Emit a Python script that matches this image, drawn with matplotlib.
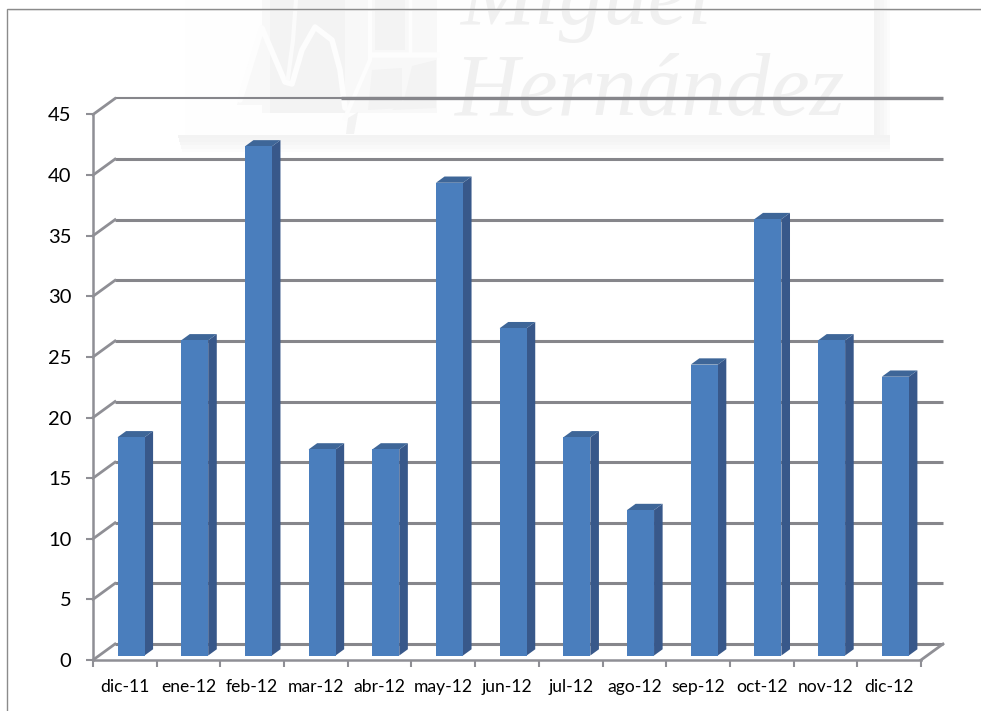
import matplotlib
matplotlib.use("Agg")
import matplotlib.pyplot as plt
from matplotlib.patches import Polygon, Rectangle

months = ["dic-11", "ene-12", "feb-12", "mar-12", "abr-12", "may-12", "jun-12",
          "jul-12", "ago-12", "sep-12", "oct-12", "nov-12", "dic-12"]
counts = [18, 26, 42, 17, 17, 39, 27, 18, 12, 24, 36, 26, 23]
y_ticks = [0, 5, 10, 15, 20, 25, 30, 35, 40, 45]

GREY = "#86868b"
AXIS_GREY = "#8f8f95"
FRONT = "#4a7ebd"
SIDE = "#38588a"
TOP = "#3e6698"
MARK = "#f3f3f3"
MARK_PALE = "#f8f8f8"

W, H = 981, 711
fig = plt.figure(figsize=(W / 100, H / 100), dpi=100, facecolor="white")

# Backdrop layer in pixel coordinates: faint crest, its box and the outer frame
bg = fig.add_axes([0, 0, 1, 1], zorder=0)
bg.set_xlim(0, W)
bg.set_ylim(H, 0)
bg.axis("off")

bg.add_patch(Rectangle((185, 0), 689, 135, fc="#fefefe", ec="none"))
for i, shade in enumerate(["#f3f3f3", "#f4f4f4", "#f6f6f6", "#f9f9f9", "#fcfcfc"]):
    bg.add_patch(Rectangle((178 + i, 135 + 3.4 * i), 712 - i, 3.4, fc=shade, ec="none"))
    bg.add_patch(Rectangle((874 + 3.2 * i, 0), 3.2, 135, fc=shade, ec="none"))

# Crest: pale ground, darker blocks, and the curve of the M left lighter on top
for pts, shade in [
    ([(262, 113), (262, 0), (437, 0), (437, 113)], MARK_PALE),
    ([(237, 105), (250, 60), (262, 25), (262, 105)], MARK_PALE),
    ([(375, 0), (405, 0), (405, 50), (375, 50)], MARK),
    ([(270, 0), (345, 0), (345, 113), (270, 113)], MARK),
    ([(372, 70), (402, 68), (402, 108), (368, 110)], MARK),
    ([(412, 66), (436, 60), (436, 108), (392, 110), (404, 100)], MARK),
    ([(348, 118), (358, 112), (354, 134), (346, 134)], MARK),
]:
    bg.add_patch(Polygon(pts, closed=True, fc=shade, ec="none"))
bg.plot([240, 262, 285, 292, 302, 315, 332, 340, 345], [100, 28, 82, 84, 50, 27, 40, 70, 108],
        color="#fdfdfd", lw=4.0, solid_capstyle="round")
bg.plot([296, 293, 288], [0, 40, 78], color="#fbfbfb", lw=3)
bg.plot([370, 370, 345], [0, 60, 118], color="#fdfdfd", lw=3)
bg.plot([372, 437], [55, 55], color="#fdfdfd", lw=4)
bg.plot([410, 410], [0, 55], color="#fdfdfd", lw=2.5)

watermark = dict(family="Liberation Serif", style="italic", color="#f0f0f0", zorder=1)
bg.text(460, 24, "Miguel", fontsize=64, ha="left", va="baseline", **watermark)
bg.text(455, 115, "Hernández", fontsize=64, ha="left", va="baseline", **watermark)

bg.plot([7, 7, W], [H, 8.5, 8.5], color="#8b8b8b", lw=1.0, solid_joinstyle="miter")
bg.plot([8, W], [9.8, 9.8], color="#dcdcdc", lw=0.7)

# Chart axes: the front plane runs from the first to the last category edge
ax = fig.add_axes([93 / W, (H - 660) / H, 828 / W, 545.5 / H], zorder=2)
ax.patch.set_alpha(0)
ax.set_xlim(0, len(months))
ax.set_ylim(0, 45)

# Depth of the chart box, in category widths and value units
depth_x = 22 / 63.7
depth_y = 16 / 12.12
n = len(months)

# Back wall gridlines and the slanted lines joining them to the value axis
for v in y_ticks:
    thick = v != 45
    ax.plot([depth_x, n + depth_x], [v + depth_y] * 2, color=GREY,
            lw=2.2 if thick else 1.5, clip_on=False, zorder=2, solid_capstyle="butt")
    ax.plot([0, depth_x], [v, v + depth_y], color=AXIS_GREY, lw=2.0,
            clip_on=False, zorder=2)
ax.plot([3.55 + depth_x, n + depth_x], [45 + depth_y] * 2, color=GREY, lw=2.4,
        clip_on=False, zorder=2, solid_capstyle="butt")
ax.plot([n, n + depth_x], [0, depth_y], color=AXIS_GREY, lw=2.0, clip_on=False, zorder=2)

# Column solids sit partway into the floor depth
bar_w = 27 / 63.7
near = 0.28
far = near + 0.39
lefts = [i + 0.5 - bar_w / 2 + near * depth_x for i in range(n)]
base = near * depth_y
ax.bar(lefts, counts, width=bar_w, bottom=base, align="edge", color=FRONT,
       clip_on=False, zorder=4)
shift_x = (far - near) * depth_x
shift_y = (far - near) * depth_y
for x0, v in zip(lefts, counts):
    x1 = x0 + bar_w
    top = v + base
    ax.add_patch(Polygon([(x1, base), (x1 + shift_x, base + shift_y),
                          (x1 + shift_x, top + shift_y), (x1, top)],
                         closed=True, fc=SIDE, ec="none", clip_on=False, zorder=3))
    ax.add_patch(Polygon([(x0, top), (x0 + shift_x, top + shift_y),
                          (x1 + shift_x, top + shift_y), (x1, top)],
                         closed=True, fc=TOP, ec="none", clip_on=False, zorder=3))

# Axis lines, tick marks at category edges, labels centred between them
for name in ("top", "right"):
    ax.spines[name].set_visible(False)
for name in ("left", "bottom"):
    ax.spines[name].set_color(AXIS_GREY)
    ax.spines[name].set_linewidth(1.8)
    ax.spines[name].set_zorder(2.5)

ax.set_yticks(y_ticks)
ax.set_yticklabels([str(v) for v in y_ticks], family="Lato", fontsize=14.5, color="#000000")
ax.tick_params(axis="y", length=5, width=1.5, color=AXIS_GREY, pad=10.5)

ax.set_xticks(range(n + 1))
ax.set_xticklabels([""] * (n + 1))
ax.tick_params(axis="x", which="major", length=5, width=1.5, color=AXIS_GREY)
ax.set_xticks([i + 0.5 for i in range(n)], minor=True)
ax.set_xticklabels(months, minor=True, family="Lato", fontsize=12.6, color="#000000")
ax.tick_params(axis="x", which="minor", length=0, pad=14)

fig.savefig("out.png", dpi=100)
